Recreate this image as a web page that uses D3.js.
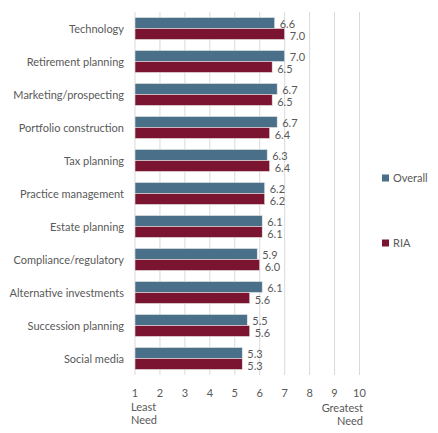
<!DOCTYPE html>
<html>
<head>
<meta charset="utf-8">
<script src="https://cdn.jsdelivr.net/npm/d3@7"></script>
<style>
  body { margin: 0; background: #fff; }
  text { font-family: Lato, "Open Sans", sans-serif; fill: #595959; }
</style>
</head>
<body>
<script>
var categories = ["Technology", "Retirement planning", "Marketing/prospecting", "Portfolio construction",
                  "Tax planning", "Practice management", "Estate planning", "Compliance/regulatory",
                  "Alternative investments", "Succession planning", "Social media"];
var overall = [6.6, 7.0, 6.7, 6.7, 6.3, 6.2, 6.1, 5.9, 6.1, 5.5, 5.3];
var ria     = [7.0, 6.5, 6.5, 6.4, 6.4, 6.2, 6.1, 6.0, 5.6, 5.6, 5.3];
var seriesNames = ["Overall", "RIA"];
var colors = ["#4a6f89", "#7a1430"];
var ticks = [1, 2, 3, 4, 5, 6, 7, 8, 9, 10];

var width = 438, height = 433;
var svg = d3.select("body").append("svg")
            .attr("width", width)
            .attr("height", height);

var x = d3.scaleLinear().domain([1, 10]).range([135, 359.5]);
var y = d3.scaleBand().domain(categories).range([12, 375]);
var sub = d3.scaleBand().domain(seriesNames).range([0, y.bandwidth()]).paddingOuter(0.5).paddingInner(0);

// gridlines
svg.selectAll("line.grid")
   .data(ticks)
   .enter()
   .append("line")
   .attr("class", "grid")
   .attr("x1", d => x(d)).attr("x2", d => x(d))
   .attr("y1", 12).attr("y2", 375)
   .style("stroke", "#d9d9d9")
   .style("stroke-width", 1);

// tick labels
svg.selectAll("text.tick")
   .data(ticks)
   .enter()
   .append("text")
   .attr("x", d => x(d))
   .attr("y", 397)
   .attr("text-anchor", "middle")
   .style("font-size", "11px")
   .text(d => d);

// category labels
svg.selectAll("text.cat")
   .data(categories)
   .enter()
   .append("text")
   .attr("x", 124)
   .attr("y", d => y(d) + y.bandwidth() / 2 + 4)
   .attr("text-anchor", "end")
   .style("font-size", "11px")
   .text(d => d);

var series = [overall, ria];
series.forEach(function(vals, i) {
    var g = svg.append("g");
    g.selectAll("rect")
     .data(vals)
     .enter()
     .append("rect")
     .attr("x", x(1))
     .attr("y", (d, j) => y(categories[j]) + sub(seriesNames[i]))
     .attr("width", d => x(d) - x(1))
     .attr("height", sub.bandwidth())
     .style("fill", colors[i])
     .style("stroke", "#e8e8e8")
     .style("stroke-width", 0.6);

    g.selectAll("text")
     .data(vals)
     .enter()
     .append("text")
     .attr("x", d => x(d) + 5)
     .attr("y", (d, k) => y(categories[k]) + sub(seriesNames[i]) + sub.bandwidth() - (i === 0 ? 0.5 : 0))
     .style("font-size", "11px")
     .text(d => d.toFixed(1));
});

// legend
var legendY = [178, 243];
seriesNames.forEach(function(name, i) {
    svg.append("rect")
       .attr("x", 382).attr("y", legendY[i] - 3.5)
       .attr("width", 7).attr("height", 7)
       .style("fill", colors[i]);
    svg.append("text")
       .attr("x", 393).attr("y", legendY[i] + 4)
       .style("font-size", "11px")
       .text(name);
});

// axis end labels
svg.append("text").attr("x", 131).attr("y", 411).style("font-size", "11px").text("Least");
svg.append("text").attr("x", 131).attr("y", 424).style("font-size", "11px").text("Need");
svg.append("text").attr("x", 363).attr("y", 412).attr("text-anchor", "end").style("font-size", "11px").text("Greatest");
svg.append("text").attr("x", 363).attr("y", 425).attr("text-anchor", "end").style("font-size", "11px").text("Need");
</script>
</body>
</html>
